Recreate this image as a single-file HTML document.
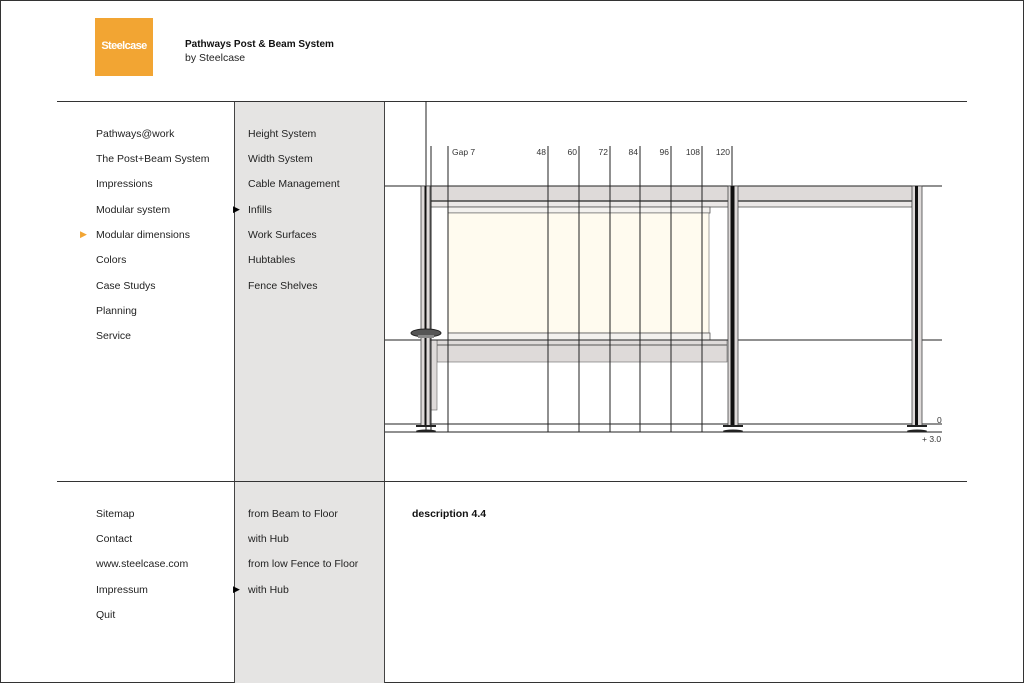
<!DOCTYPE html>
<html><head><style>
body{margin:0;width:1024px;height:683px;position:relative;background:#fff;font-family:"Liberation Sans",sans-serif;font-size:10.5px;color:#222;overflow:hidden}
.frame{position:absolute;left:0;top:0;width:1022px;height:681px;border:1px solid #333}
.t{position:absolute;white-space:nowrap}
.col{position:absolute;left:234px;top:101px;width:151px;height:582px;background:#e5e4e3;border-left:1px solid #444;border-right:1px solid #444;box-sizing:border-box}
.h{position:absolute;height:1px;background:#333}
</style></head><body>
<div class="frame"></div>
<div style="position:absolute;left:95px;top:18px;width:58px;height:58px;background:#f2a533"></div>
<div class="t" style="left:97px;top:40px;width:54px;text-align:center;color:#fff;font-weight:bold;font-size:11px;letter-spacing:-0.6px">Steelcase</div>
<div class="t" style="left:185px;top:39px;font-weight:bold;font-size:10px;color:#111">Pathways Post &amp; Beam System</div>
<div class="t" style="left:185px;top:52px;font-size:10.5px">by Steelcase</div>
<div class="col"></div>
<div class="h" style="left:57px;top:101px;width:910px"></div>
<div class="h" style="left:57px;top:481px;width:910px"></div>
<div class="t" style="left:96px;top:128px">Pathways@work</div>
<div class="t" style="left:96px;top:153px">The Post+Beam System</div>
<div class="t" style="left:96px;top:178px">Impressions</div>
<div class="t" style="left:96px;top:204px">Modular system</div>
<div class="t" style="left:80px;top:229px;color:#f2a533;font-size:9px">▶</div>
<div class="t" style="left:96px;top:229px">Modular dimensions</div>
<div class="t" style="left:96px;top:254px">Colors</div>
<div class="t" style="left:96px;top:280px">Case Studys</div>
<div class="t" style="left:96px;top:305px">Planning</div>
<div class="t" style="left:96px;top:330px">Service</div>
<div class="t" style="left:248px;top:128px">Height System</div>
<div class="t" style="left:248px;top:153px">Width System</div>
<div class="t" style="left:248px;top:178px">Cable Management</div>
<div class="t" style="left:233px;top:204px;font-size:9px;color:#000">▶</div>
<div class="t" style="left:248px;top:204px">Infills</div>
<div class="t" style="left:248px;top:229px">Work Surfaces</div>
<div class="t" style="left:248px;top:254px">Hubtables</div>
<div class="t" style="left:248px;top:280px">Fence Shelves</div>
<div class="t" style="left:96px;top:508px">Sitemap</div>
<div class="t" style="left:96px;top:533px">Contact</div>
<div class="t" style="left:96px;top:558px">www.steelcase.com</div>
<div class="t" style="left:96px;top:584px">Impressum</div>
<div class="t" style="left:96px;top:609px">Quit</div>
<div class="t" style="left:248px;top:508px">from Beam to Floor</div>
<div class="t" style="left:248px;top:533px">with Hub</div>
<div class="t" style="left:248px;top:558px">from low Fence to Floor</div>
<div class="t" style="left:233px;top:584px;font-size:9px;color:#000">▶</div>
<div class="t" style="left:248px;top:584px">with Hub</div>
<div class="t" style="left:412px;top:508px;font-weight:bold;color:#111">description 4.4</div>
<svg style="position:absolute;left:0;top:0" width="1024" height="683">
<g font-family="Liberation Sans, sans-serif" font-size="8.5" fill="#333">
<text x="452" y="155">Gap 7</text>
<text x="546" y="155" text-anchor="end">48</text>
<text x="577" y="155" text-anchor="end">60</text>
<text x="608" y="155" text-anchor="end">72</text>
<text x="638" y="155" text-anchor="end">84</text>
<text x="669" y="155" text-anchor="end">96</text>
<text x="700" y="155" text-anchor="end">108</text>
<text x="730" y="155" text-anchor="end">120</text>
<text x="937" y="423">0</text>
<text x="922" y="442">+ 3.0</text>
</g>
<rect x="431" y="186" width="481" height="15" fill="#dedad9"/>
<rect x="431" y="201" width="481" height="6" fill="#ebe8e7" stroke="#555" stroke-width="0.8"/>
<line x1="431" y1="201" x2="912" y2="201" stroke="#444" stroke-width="1.5"/>
<rect x="448" y="207" width="262" height="6" fill="#f3f1ee" stroke="#555" stroke-width="0.8"/>
<rect x="448" y="213" width="261" height="120" fill="#fffbef" stroke="#666" stroke-width="0.6"/>
<rect x="448" y="333" width="262" height="7" fill="#f3f1ee" stroke="#555" stroke-width="0.8"/>
<rect x="437" y="340" width="290" height="22" fill="#dedad9" stroke="#666" stroke-width="0.6"/>
<line x1="437" y1="345" x2="727" y2="345" stroke="#555" stroke-width="1"/>
<rect x="431" y="340" width="6" height="70" fill="#dedad9" stroke="#666" stroke-width="0.6"/>
<g stroke="#222" stroke-width="1">
<line x1="385" y1="186" x2="942" y2="186"/>
<line x1="385" y1="340" x2="942" y2="340"/>
<line x1="385" y1="424" x2="942" y2="424"/>
<line x1="385" y1="432" x2="942" y2="432"/>
</g>
<g stroke="#222" stroke-width="1">
<line x1="426" y1="101" x2="426" y2="432"/>
<line x1="431" y1="146" x2="431" y2="432"/>
<line x1="448" y1="146" x2="448" y2="432"/>
<line x1="548" y1="146" x2="548" y2="432"/>
<line x1="579" y1="146" x2="579" y2="432"/>
<line x1="610" y1="146" x2="610" y2="432"/>
<line x1="640" y1="146" x2="640" y2="432"/>
<line x1="671" y1="146" x2="671" y2="432"/>
<line x1="702" y1="146" x2="702" y2="432"/>
<line x1="732" y1="146" x2="732" y2="186"/>
</g>
<rect x="421" y="186" width="9" height="240" fill="#dedad9" stroke="#444" stroke-width="0.8"/>
<line x1="425.5" y1="186" x2="425.5" y2="426" stroke="#111" stroke-width="2"/>
<rect x="728" y="186" width="10" height="240" fill="#dedad9" stroke="#444" stroke-width="0.8"/>
<rect x="730.5" y="186" width="4" height="240" fill="#111"/>
<rect x="912" y="186" width="10" height="240" fill="#dedad9" stroke="#444" stroke-width="0.8"/>
<rect x="915" y="186" width="3" height="240" fill="#111"/>
<g fill="#222">
<rect x="416" y="425" width="20" height="2"/><ellipse cx="426" cy="431" rx="10" ry="1.5"/>
<rect x="723" y="425" width="20" height="2"/><ellipse cx="733" cy="431" rx="10" ry="1.5"/>
<rect x="907" y="425" width="20" height="2"/><ellipse cx="917" cy="431" rx="10" ry="1.5"/>
</g>
<ellipse cx="426" cy="333" rx="15" ry="4" fill="#555" stroke="#222"/>
<rect x="418" y="335" width="16" height="3" fill="#888"/>
</svg>
</body></html>
